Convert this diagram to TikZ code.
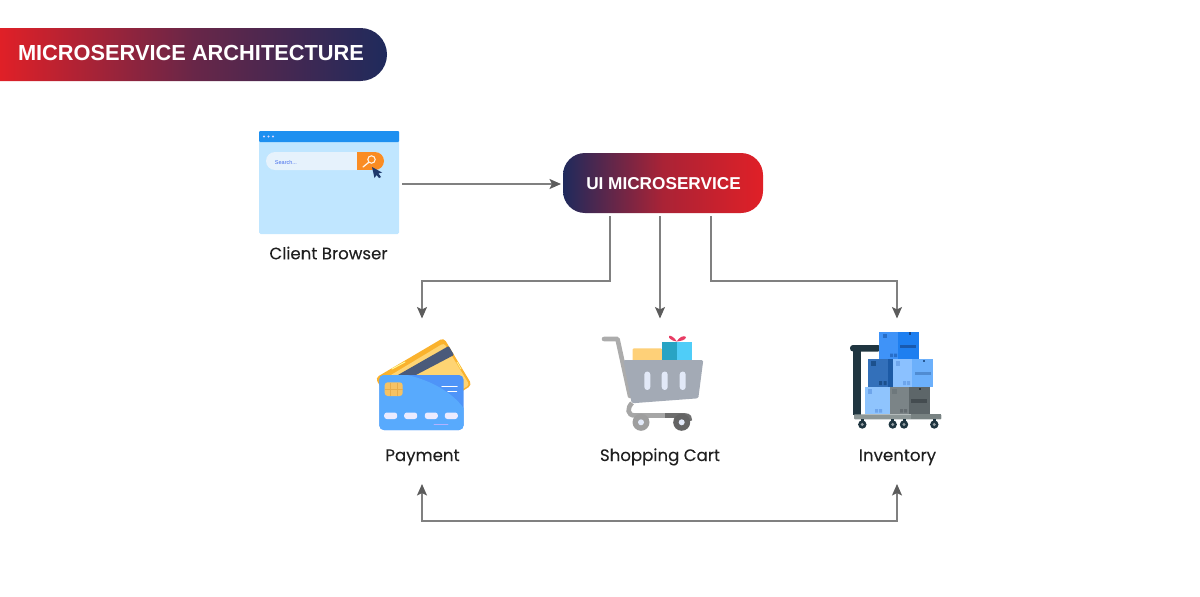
\documentclass[tikz,border=0pt]{standalone}
\usepackage{fontspec}
\setmainfont{Liberation Sans}
\newfontfamily\labelfont[FakeBold=0.12]{Poppins}
\usetikzlibrary{arrows.meta,shapes.misc}
\definecolor{brandred}{HTML}{E02027}
\definecolor{brandnavy}{HTML}{1F2A5C}
\definecolor{linegray}{HTML}{808080}
\definecolor{tipgray}{HTML}{5C5C5C}
\tikzset{
  conn/.style={draw=linegray,line width=1.5pt,line join=miter},
  tip/.style={-{Stealth[length=11.5pt,width=10pt,inset=2.5pt,color=tipgray]}},
  tips/.style={{Stealth[length=11.5pt,width=10pt,inset=2.5pt,color=tipgray]}-{Stealth[length=11.5pt,width=10pt,inset=2.5pt,color=tipgray]}},
  iconbox/.style={inner sep=0pt,outer sep=0pt},
  caption/.style={text=black!88,font=\labelfont\fontsize{16.6}{18}\selectfont,inner sep=0pt,anchor=base},
}
\begin{document}
\begin{tikzpicture}[x=1pt,y=-1pt]
\useasboundingbox (0,0) rectangle (1200,597);
% banner
\node[rounded rectangle,rounded rectangle left arc=none,left color=brandred,right color=brandnavy,middle color=brandred!38!brandnavy,
  minimum width=387pt,minimum height=53pt,inner sep=0pt,outer sep=0pt] (banner) at (193.5,54.5) {};
\node[text=white,font=\bfseries\fontsize{21.8}{24}\selectfont,inner sep=0pt] (title) at (191,53) {MICROSERVICE ARCHITECTURE};
% UI node
\node[rounded corners=22pt,left color=brandnavy,right color=brandred,middle color=brandred!72!brandnavy,
  minimum width=200pt,minimum height=60pt,inner sep=0pt,outer sep=0pt] (ui) at (663,183) {};
\node[text=white,font=\bfseries\fontsize{17.2}{20}\selectfont,inner sep=0pt] (uitext) at (663.5,184) {UI MICROSERVICE};
% browser
\node[iconbox,minimum width=140pt,minimum height=103pt] (browser) at (329,182.5) {};
\fill[rounded corners=1.5pt,fill={rgb,255:red,192;green,230;blue,255}] (259,131) rectangle (399,234);
\fill[rounded corners=1pt,fill={rgb,255:red,30;green,144;blue,240}] (259,131) rectangle (399,142);
\foreach \dx in {264,268.5,273}{\fill[white!85!blue] (\dx,136.5) circle (1.1);}
\fill[fill={rgb,255:red,230;green,242;blue,252},rounded corners=9pt] (266,152) rectangle (384,170);
\fill[fill={rgb,255:red,250;green,140;blue,35}] (357,152) rectangle (375,170);
\fill[fill={rgb,255:red,250;green,140;blue,35}] (375,161) circle (9);
\draw[white!90!orange,line width=1.1pt] (371.5,159.5) circle (3.7);
\draw[white!90!orange,line width=1.3pt,line cap=round] (368.5,162.5) -- (363,167);
\fill[fill={rgb,255:red,31;green,58;blue,110}] (372,167) -- (382,172.5) -- (378.5,173.5) -- (381,177) -- (379,178) -- (376.5,175) -- (374.5,178) -- cycle;
\node[text={rgb,255:red,70;green,110;blue,235},font=\fontsize{5.5}{6}\selectfont,inner sep=0pt] (search) at (286,162.3) {Search...};
\node[caption] (browserL) at (328.5,259.3) {Client Browser};
% payment
\node[iconbox,minimum width=98pt,minimum height=94pt] (pay) at (423,384) {};
\fill[fill={rgb,255:red,250;green,178;blue,45},rounded corners=4pt] (375.3,378) -- (443.7,337.7) -- (472,385) -- (405,428) -- cycle;
\fill[fill={rgb,255:red,254;green,212;blue,115},rounded corners=3pt] (381,381) -- (444,343) -- (469.5,385) -- (405,423) -- cycle;
\fill[fill={rgb,255:red,74;green,90;blue,122},rounded corners=1pt] (397,375.5) -- (448.7,346) -- (454,355) -- (414,376) -- cycle;
\draw[white!60!yellow,line width=1pt,line cap=round] (392,369) -- (405,362);
\draw[white!60!yellow,line width=.8pt,line cap=round] (457,362) -- (461,369);
\fill[fill={rgb,255:red,78;green,148;blue,248},rounded corners=4.5pt] (379.3,375) rectangle (463.5,430);
\begin{scope}
\clip[rounded corners=4.5pt] (379.3,375) rectangle (463.5,430);
\fill[fill={rgb,255:red,88;green,170;blue,253}] (379.3,375) -- (407,375) .. controls (430,380) and (452,392) .. (463.5,408) -- (463.5,430) -- (379.3,430) -- cycle;
\end{scope}
\fill[fill={rgb,255:red,245;green,194;blue,100},rounded corners=3pt] (384.7,382.3) rectangle (402.7,396);
\draw[draw={rgb,255:red,230;green,172;blue,75},line width=.5pt] (390.5,383) -- (390.5,395.5) (397.5,383) -- (397.5,395.5) (385,389) -- (402.5,389);
\foreach \dx in {390.7,410.7,431.3,451.3}{\fill[white!92!blue,rounded corners=2.6pt] (\dx-6.5,412.5) rectangle (\dx+6.5,419);}
\draw[white,line width=1.5pt,line cap=round] (442,386.5) -- (457,386.5) (448,391.7) -- (456.5,391.7);
\draw[white!70!blue,line width=.8pt,line cap=round] (434,424) -- (448,424);
\node[caption] (payL) at (422.5,461) {Payment};
% cart
\node[iconbox,minimum width=102pt,minimum height=94pt] (cart) at (654,384) {};
\fill[fill={rgb,255:red,254;green,208;blue,120},rounded corners=1pt] (632.7,348.3) rectangle (662,362);
\fill[fill={rgb,255:red,79;green,205;blue,248}] (661.7,342.3) rectangle (691.7,362);
\fill[fill={rgb,255:red,40;green,164;blue,196}] (661.7,342.3) rectangle (676.7,362);
\fill[fill={rgb,255:red,232;green,60;blue,100}] (676.7,341.5) .. controls (672,341) and (668,338) .. (669,336) .. controls (671,335) and (675,338) .. (676.7,341.5) .. controls (679,337) and (684,335) .. (686,337) .. controls (686,340) and (681,341) .. (676.7,341.5) -- cycle;
\draw[draw={rgb,255:red,172;green,172;blue,172},line width=4.6pt,line cap=round,line join=round] (604,339) -- (617.5,339) -- (630,396);
\fill[fill={rgb,255:red,163;green,170;blue,181},rounded corners=1.5pt] (623.3,360) -- (703.3,360) -- (698.3,398.3) -- (631.7,403.3) -- cycle;
\foreach \dx in {647.3,664.7,682.7}{\fill[fill={rgb,255:red,226;green,233;blue,248},rounded corners=3pt] (\dx-3,371.5) rectangle (\dx+3,390);}
\draw[draw={rgb,255:red,166;green,166;blue,166},line width=4.6pt] (632,403) .. controls (627,408) and (627,415.5) .. (635,415.5) -- (666,415.5);
\draw[draw={rgb,255:red,110;green,110;blue,110},line width=4.6pt] (665,415.5) -- (685,415.5) .. controls (689,415.5) and (690,418) .. (690,421);
\fill[fill={rgb,255:red,158;green,158;blue,158}] (641,422.3) circle (8.5);
\fill[fill={rgb,255:red,226;green,233;blue,248}] (641,422.3) circle (3);
\fill[fill={rgb,255:red,100;green,100;blue,100}] (681.7,422.3) circle (8.5);
\fill[fill={rgb,255:red,226;green,233;blue,248}] (681.7,422.3) circle (3);
\node[caption] (cartL) at (660,461) {Shopping Cart};
% inventory
\node[iconbox,minimum width=92pt,minimum height=98pt] (inv) at (896,380) {};
\fill[fill={rgb,255:red,31;green,53;blue,64}] (853.3,352) rectangle (860.7,414.5);
\fill[fill={rgb,255:red,31;green,53;blue,64},rounded corners=3pt] (850,345) rectangle (881,351.5);
\fill[fill={rgb,255:red,31;green,53;blue,64}] (853.3,349) rectangle (860.7,354);
% stacked boxes
\fill[fill={rgb,255:red,63;green,147;blue,248}] (879.3,331.7) rectangle (899,359.3);
\fill[fill={rgb,255:red,30;green,127;blue,240}] (898.3,331.7) rectangle (919.3,359.3);
\fill[fill={rgb,255:red,51;green,112;blue,186}] (868.3,359.3) rectangle (888,387.3);
\fill[fill={rgb,255:red,28;green,90;blue,165}] (887.7,359.3) rectangle (893.3,387.3);
\fill[fill={rgb,255:red,139;green,193;blue,255}] (893.3,359.3) rectangle (912,387.3);
\fill[fill={rgb,255:red,108;green,176;blue,251}] (911.7,359.3) rectangle (933.3,387.3);
\fill[fill={rgb,255:red,143;green,196;blue,253}] (865,387.3) rectangle (890,414.3);
\fill[fill={rgb,255:red,123;green,132;blue,135}] (890,387.3) rectangle (910,414.3);
\fill[fill={rgb,255:red,93;green,102;blue,105}] (909.3,387.3) rectangle (930,414.3);
% box details
\fill[fill={rgb,255:red,40;green,110;blue,200}] (883,333.5) rectangle (887,338);
\fill[fill={rgb,255:red,25;green,90;blue,175}] (900,345) rectangle (916,347.5);
\fill[fill={rgb,255:red,20;green,70;blue,140}] (908.5,332) rectangle (911,334.5);
\fill[fill={rgb,255:red,40;green,110;blue,200}] (890,353.5) rectangle (893,357) (894,353.5) rectangle (897,357);
\fill[fill={rgb,255:red,28;green,80;blue,140}] (871,361) rectangle (876,366);
\fill[fill={rgb,255:red,28;green,80;blue,140}] (879,381) rectangle (882,385) (883.5,381) rectangle (886.5,385);
\fill[fill={rgb,255:red,110;green,165;blue,235}] (896,361) rectangle (900,366);
\fill[fill={rgb,255:red,80;green,140;blue,210}] (915,371.5) rectangle (931,375);
\fill[fill={rgb,255:red,40;green,90;blue,150}] (922.5,359.5) rectangle (925,362);
\fill[fill={rgb,255:red,110;green,165;blue,235}] (903,381) rectangle (906,385) (907,381) rectangle (910,385);
\fill[fill={rgb,255:red,110;green,165;blue,235}] (867.5,389) rectangle (872,394);
\fill[fill={rgb,255:red,110;green,165;blue,235}] (875,409) rectangle (878,412.5) (879,409) rectangle (882,412.5);
\fill[fill={rgb,255:red,110;green,120;blue,124}] (892,389) rectangle (897,394);
\fill[fill={rgb,255:red,68;green,76;blue,80}] (911,398.5) rectangle (927,402.5);
\fill[fill={rgb,255:red,50;green,56;blue,60}] (918.5,387.5) rectangle (921,390);
\fill[fill={rgb,255:red,100;green,108;blue,112}] (900,409) rectangle (903,412.5) (904,409) rectangle (907,412.5);
% platform and wheels
\fill[fill={rgb,255:red,140;green,150;blue,150},rounded corners=.8pt] (854,414.3) rectangle (941.3,419.3);
\fill[fill={rgb,255:red,120;green,130;blue,130}] (911,414.3) rectangle (941.3,419.3);
\foreach \dx in {862.3,892.7,904,934.3}{
  \fill[fill={rgb,255:red,31;green,53;blue,64}] (\dx-1.5,419) rectangle (\dx+1.5,422);
  \fill[fill={rgb,255:red,31;green,53;blue,64}] (\dx,424.5) circle (4.2);
  \fill[fill={rgb,255:red,150;green,160;blue,165}] (\dx,424.5) circle (1.6);
}
\node[caption] (invL) at (897.5,461) {Inventory};
% connector ends
\coordinate (clientOut) at (402,184);
\coordinate (uiIn) at (561,184);
\coordinate (uiOutL) at (610,216);
\coordinate (uiOutM) at (660,216);
\coordinate (uiOutR) at (711,216);
\coordinate (payIn) at (422,318.5);
\coordinate (cartIn) at (660,318.5);
\coordinate (invIn) at (897,318.5);
\coordinate (payDown) at (422,484);
\coordinate (invDown) at (897,484);
\coordinate (busL) at (422,521);
\coordinate (busR) at (897,521);
% connectors
\draw[conn,tip] (clientOut) -- (uiIn);
\draw[conn,tip] (uiOutL) -- ++(0,65) -| (payIn);
\draw[conn,tip] (uiOutM) -- (cartIn);
\draw[conn,tip] (uiOutR) -- ++(0,65) -| (invIn);
\draw[conn,tips] (payDown) -- (busL) -- (busR) -- (invDown);
\end{tikzpicture}
\end{document}
